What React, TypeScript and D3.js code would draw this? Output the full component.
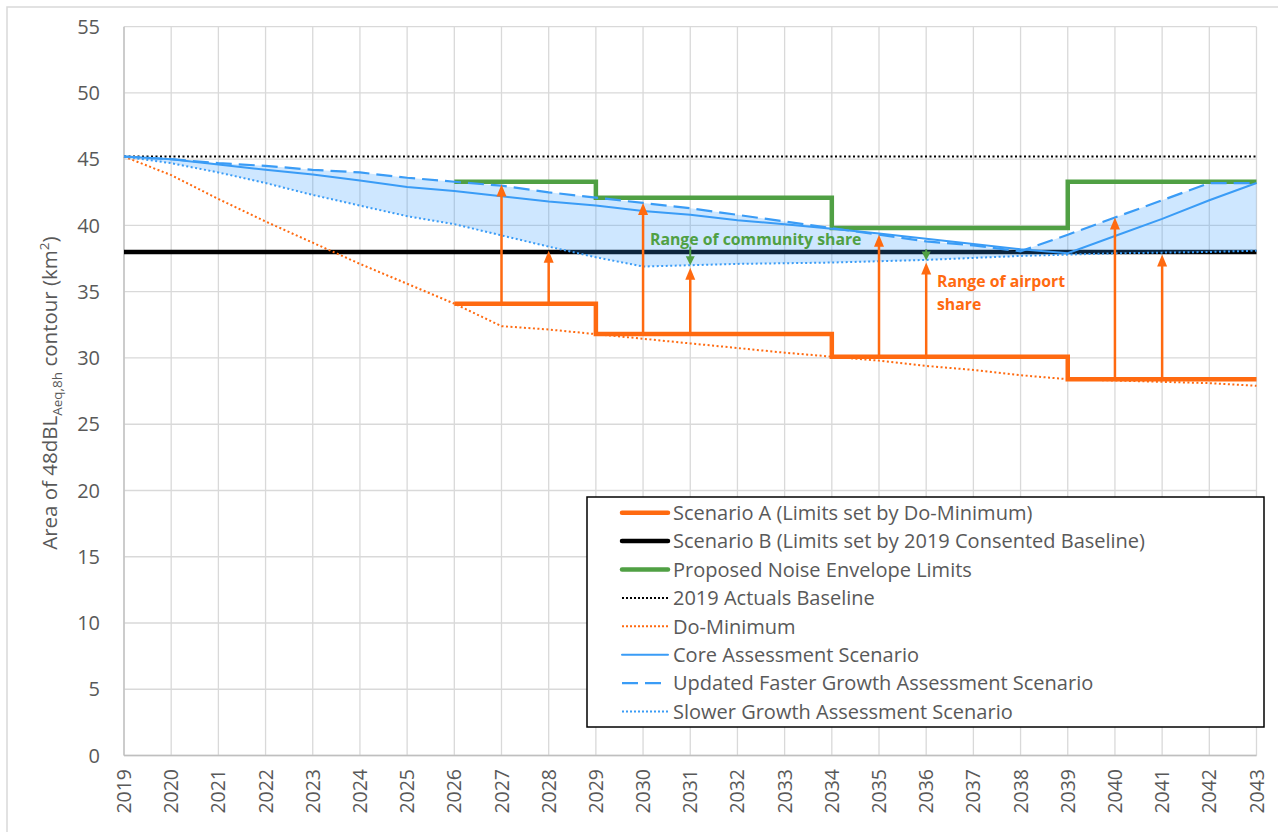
import { useEffect } from 'react'
import * as d3 from 'd3'

// years on the x axis
const years = d3.range(2019, 2044)
const yTicks = [0, 5, 10, 15, 20, 25, 30, 35, 40, 45, 50, 55]

// annual series (km²)
const actuals2019 = 45.2
const scenarioB = 38.0
const doMinimum = [45.2, 43.8, 42.0, 40.3, 38.7, 37.1, 35.6, 34.1, 32.4, 32.15, 31.8, 31.45, 31.1, 30.75, 30.4, 30.1, 29.8, 29.4, 29.1, 28.7, 28.4, 28.3, 28.2, 28.1, 27.9]
const coreScenario = [45.2, 45.0, 44.6, 44.2, 43.85, 43.4, 42.9, 42.6, 42.2, 41.8, 41.5, 41.1, 40.8, 40.4, 40.1, 39.75, 39.4, 39.0, 38.6, 38.2, 37.9, 39.2, 40.5, 41.9, 43.2]
const fasterGrowth = [45.2, 45.0, 44.7, 44.5, 44.2, 44.0, 43.6, 43.3, 43.0, 42.5, 42.1, 41.7, 41.3, 40.8, 40.3, 39.8, 39.3, 38.8, 38.5, 38.05, 39.3, 40.6, 41.9, 43.2, 43.2]
const slowerGrowth = [45.2, 44.7, 44.0, 43.2, 42.3, 41.5, 40.7, 40.1, 39.25, 38.4, 37.6, 36.9, 37.0, 37.1, 37.15, 37.2, 37.3, 37.4, 37.55, 37.7, 37.8, 37.9, 37.95, 38.0, 38.1]

// stepped limits
const limitYears = [2026, 2029, 2034, 2039, 2043]
const scenarioA = [34.1, 31.8, 30.1, 28.4, 28.4]
const envelope = [43.3, 42.1, 39.8, 43.3, 43.3]

// annotation arrows
const airportArrows = [
  { year: 2027, from: 34.1, to: 43.1 },
  { year: 2028, from: 34.1, to: 38.1 },
  { year: 2030, from: 31.8, to: 41.7 },
  { year: 2031, from: 31.8, to: 36.8 },
  { year: 2035, from: 30.1, to: 39.3 },
  { year: 2036, from: 30.1, to: 37.2 },
  { year: 2040, from: 28.4, to: 40.6 },
  { year: 2041, from: 28.4, to: 37.8 },
]
const communityArrows = [
  { year: 2031, from: 38.4, to: 37.0 },
  { year: 2036, from: 38.2, to: 37.35 },
]

const ORANGE = '#ff6a10'
const GREEN = '#50a044'
const BLUE = '#3a9cf6'
const TEXT = '#595959'
const FONT = '"Open Sans", "Noto Sans", sans-serif'

const legendItems = [
  { label: 'Scenario A (Limits set by Do-Minimum)', color: ORANGE, width: 4.5, dash: null },
  { label: 'Scenario B (Limits set by 2019 Consented Baseline)', color: '#000', width: 4.5, dash: null },
  { label: 'Proposed Noise Envelope Limits', color: GREEN, width: 4.5, dash: null },
  { label: '2019 Actuals Baseline', color: '#000', width: 2, dash: '2,2' },
  { label: 'Do-Minimum', color: ORANGE, width: 2, dash: '2,2' },
  { label: 'Core Assessment Scenario', color: BLUE, width: 2, dash: null },
  { label: 'Updated Faster Growth Assessment Scenario', color: BLUE, width: 2.2, dash: '16,7' },
  { label: 'Slower Growth Assessment Scenario', color: BLUE, width: 2, dash: '2,2' },
]

export default function App() {
  useEffect(() => {
    document.body.style.margin = '0'
  }, [])

  const width = 1278
  const height = 832
  const left = 124, right = 1256.5, top = 26.7, bottom = 755.5

  const x = d3.scaleLinear().domain([2019, 2043]).range([left, right])
  const y = d3.scaleLinear().domain([0, 55]).range([bottom, top])

  const line = d3.line<[number, number]>().x(d => x(d[0])).y(d => y(d[1]))
  const step = d3.line<[number, number]>().x(d => x(d[0])).y(d => y(d[1])).curve(d3.curveStepAfter)
  const zip = (vals: number[], xs: number[] = years) => vals.map((v, i) => [xs[i], v] as [number, number])

  const band = d3.area<number>()
    .x((_, i) => x(years[i]))
    .y0((_, i) => y(slowerGrowth[i]))
    .y1(d => y(d))

  const arrowHead = (cx: number, tipY: number, dir: number, w: number, h: number) =>
    `M${cx},${tipY} L${cx - w / 2},${tipY + dir * h} L${cx + w / 2},${tipY + dir * h} Z`

  const legendX = 587, legendY = 497, legendW = 677, legendH = 230
  const rowH = 28.4

  return (
    <svg width={width} height={height} style={{ display: 'block', fontFamily: FONT }}>
      <rect x={0} y={0} width={width} height={height} fill="#fff" />
      <rect x={7} y={7} width={width + 10} height={height + 10} fill="none" stroke="#d9d9d9" strokeWidth={1.5} />

      {/* grid */}
      <g stroke="#d9d9d9" strokeWidth={1.3}>
        {years.map(yr => (
          <line key={yr} x1={x(yr)} x2={x(yr)} y1={top} y2={bottom} />
        ))}
        {yTicks.map(t => (
          <line key={t} x1={left} x2={right} y1={y(t)} y2={y(t)} />
        ))}
      </g>
      <line x1={left} x2={left} y1={top} y2={bottom} stroke="#bfbfbf" strokeWidth={1.3} />
      <line x1={left} x2={right} y1={bottom} y2={bottom} stroke="#bfbfbf" strokeWidth={1.3} />

      {/* y ticks */}
      <g fill={TEXT} fontSize={20} textAnchor="end">
        {yTicks.map(t => (
          <text key={t} x={100} y={y(t)} dy="0.36em">{t}</text>
        ))}
      </g>
      {/* x ticks */}
      <g fill={TEXT} fontSize={19.5} textAnchor="end">
        {years.map(yr => (
          <text key={yr} transform={`translate(${x(yr)},769) rotate(-90)`} dy="0.36em">{yr}</text>
        ))}
      </g>
      <text transform={`translate(50,${(top + bottom) / 2 + 2}) rotate(-90)`} textAnchor="middle" fill={TEXT} fontSize={20.5} dy="0.36em">
        Area of 48dBL<tspan fontSize={13.5} dy="5">Aeq,8h</tspan><tspan dy="-5"> contour (km</tspan><tspan fontSize={13.5} dy="-8">2</tspan><tspan dy="8">)</tspan>
      </text>

      {/* baselines */}
      <line x1={x(2019)} x2={x(2043)} y1={y(actuals2019)} y2={y(actuals2019)} stroke="#000" strokeWidth={2} strokeDasharray="2,2.5" />
      <line x1={x(2019)} x2={x(2043)} y1={y(scenarioB)} y2={y(scenarioB)} stroke="#000" strokeWidth={4.5} />

      {/* range band */}
      <path d={band(fasterGrowth) ?? ''} fill="rgba(51,153,255,0.24)" />

      <path d={line(zip(doMinimum)) ?? ''} fill="none" stroke={ORANGE} strokeWidth={2} strokeDasharray="2,2.5" />
      <path d={step(zip(envelope, limitYears)) ?? ''} fill="none" stroke={GREEN} strokeWidth={4.5} />
      <path d={step(zip(scenarioA, limitYears)) ?? ''} fill="none" stroke={ORANGE} strokeWidth={4.5} />

      <path d={line(zip(slowerGrowth)) ?? ''} fill="none" stroke={BLUE} strokeWidth={2} strokeDasharray="2,2.5" />
      <path d={line(zip(coreScenario)) ?? ''} fill="none" stroke={BLUE} strokeWidth={2} />
      <path d={line(zip(fasterGrowth)) ?? ''} fill="none" stroke={BLUE} strokeWidth={2.2} strokeDasharray="16,7" />

      {/* arrows */}
      {airportArrows.map(a => (
        <g key={a.year}>
          <line x1={x(a.year)} x2={x(a.year)} y1={y(a.from)} y2={y(a.to) + 10} stroke={ORANGE} strokeWidth={2.5} />
          <path d={arrowHead(x(a.year), y(a.to), 1, 10, 12)} fill={ORANGE} />
        </g>
      ))}
      {communityArrows.map(a => (
        <g key={a.year}>
          <line x1={x(a.year)} x2={x(a.year)} y1={y(a.from)} y2={y(a.to) - 7} stroke={GREEN} strokeWidth={2} />
          <path d={arrowHead(x(a.year), y(a.to), -1, 9, 9)} fill={GREEN} />
        </g>
      ))}

      <text x={650} y={245} fill={GREEN} fontSize={15.8} fontWeight="bold">Range of community share</text>
      <text x={937} y={287} fill={ORANGE} fontSize={15.8} fontWeight="bold">Range of airport</text>
      <text x={937} y={310} fill={ORANGE} fontSize={15.8} fontWeight="bold">share</text>

      {/* legend */}
      <rect x={legendX} y={legendY} width={legendW} height={legendH} fill="#fff" stroke="#000" strokeWidth={1.5} />
      {legendItems.map((it, i) => {
        const cy = legendY + 15.7 + i * rowH
        return (
          <g key={it.label}>
            <line x1={622} x2={668} y1={cy} y2={cy} stroke={it.color} strokeWidth={it.width}
              strokeDasharray={it.dash ?? undefined} strokeLinecap={it.dash ? 'butt' : 'round'} />
            <text x={673} y={cy} dy="0.36em" fill={TEXT} fontSize={20}>{it.label}</text>
          </g>
        )
      })}
    </svg>
  )
}
